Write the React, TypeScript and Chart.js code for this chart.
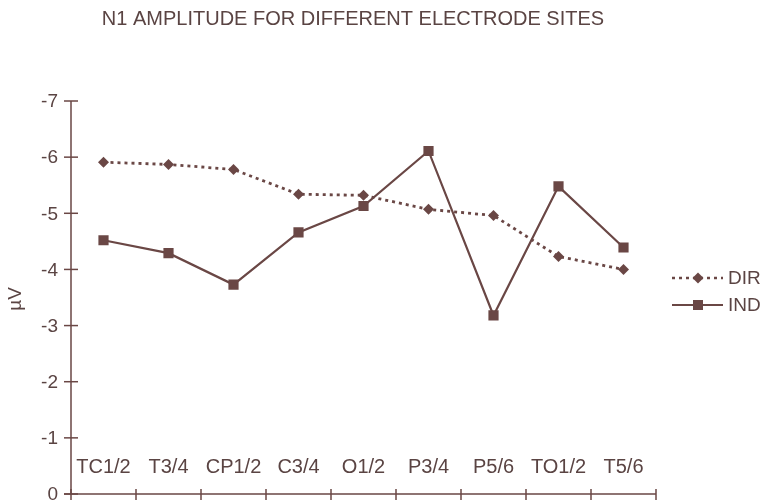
import React, { useEffect, useRef } from "react";
import { Chart, registerables } from "chart.js";

Chart.register(...registerables);

// Electrode sites along the x axis
const sites = ["TC1/2", "T3/4", "CP1/2", "C3/4", "O1/2", "P3/4", "P5/6", "TO1/2", "T5/6"];
// N1 amplitude (µV) per condition
const dirValues = [-5.91, -5.87, -5.78, -5.34, -5.32, -5.07, -4.96, -4.23, -4.0];
const indValues = [-4.52, -4.29, -3.73, -4.66, -5.13, -6.11, -3.18, -5.48, -4.39];
const yTicks = [-7, -6, -5, -4, -3, -2, -1, 0];

const INK = "#6a4745";
const TEXT = "#5a4443";
const FONT = "'Liberation Sans', Arial, sans-serif";

function diamond(ctx: CanvasRenderingContext2D, x: number, y: number, r: number) {
  ctx.beginPath();
  ctx.moveTo(x - r, y);
  ctx.lineTo(x, y - r);
  ctx.lineTo(x + r, y);
  ctx.lineTo(x, y + r);
  ctx.closePath();
  ctx.fill();
}

const decorations = {
  id: "decorations",
  afterDraw(chart: any) {
    const ctx: CanvasRenderingContext2D = chart.ctx;
    const xs = chart.scales.x;
    const ys = chart.scales.y;
    const area = chart.chartArea;
    ctx.save();
    ctx.strokeStyle = INK;
    ctx.lineWidth = 1.5;
    // axis lines
    ctx.beginPath();
    ctx.moveTo(area.left - 7, area.bottom);
    ctx.lineTo(area.right, area.bottom);
    ctx.moveTo(area.left, area.top);
    ctx.lineTo(area.left, area.bottom);
    ctx.stroke();
    // tick marks crossing the y axis, with their values
    ctx.fillStyle = TEXT;
    ctx.font = `19px ${FONT}`;
    ctx.textAlign = "right";
    ctx.textBaseline = "middle";
    for (const v of yTicks) {
      const py = ys.getPixelForValue(v);
      ctx.beginPath();
      ctx.moveTo(area.left - 7, py);
      ctx.lineTo(area.left + 7, py);
      ctx.stroke();
      ctx.fillText(String(v), area.left - 13, py + 1);
    }
    // tick marks crossing the x axis, between categories
    for (let i = 0; i <= sites.length; i++) {
      const px = xs.getPixelForValue(i - 0.5);
      ctx.beginPath();
      ctx.moveTo(px, area.bottom - 5);
      ctx.lineTo(px, area.bottom + 6);
      ctx.stroke();
    }
    // category names inside the plot, just above the x axis
    ctx.font = `20px ${FONT}`;
    ctx.textAlign = "center";
    const labelY = ys.getPixelForValue(-0.48);
    sites.forEach((s, i) => ctx.fillText(s, xs.getPixelForValue(i), labelY));

    // title
    ctx.font = `20px ${FONT}`;
    ctx.fillText("N1 AMPLITUDE FOR DIFFERENT ELECTRODE SITES", 353, 19);

    // y axis title
    ctx.save();
    ctx.translate(16, 299);
    ctx.rotate(-Math.PI / 2);
    ctx.font = `19px ${FONT}`;
    ctx.fillText("µV", 0, 0);
    ctx.restore();

    // legend
    const lx0 = 672, lx1 = 723, mx = 698, tx = 728;
    const dirY = 278, indY = 305;
    ctx.strokeStyle = INK;
    ctx.fillStyle = INK;
    ctx.lineWidth = 2.5;
    ctx.setLineDash([3, 4]);
    ctx.beginPath();
    ctx.moveTo(lx0, dirY);
    ctx.lineTo(lx1, dirY);
    ctx.stroke();
    ctx.setLineDash([]);
    diamond(ctx, mx, dirY, 5.5);
    ctx.lineWidth = 2.2;
    ctx.beginPath();
    ctx.moveTo(lx0, indY);
    ctx.lineTo(lx1, indY);
    ctx.stroke();
    ctx.fillRect(mx - 5, indY - 5, 10, 10);
    ctx.fillStyle = TEXT;
    ctx.font = `19px ${FONT}`;
    ctx.textAlign = "left";
    ctx.fillText("DIR", tx, dirY + 1);
    ctx.fillText("IND", tx, indY + 1);
    ctx.restore();
  },
};

export default function App() {
  const ref = useRef<HTMLCanvasElement>(null);
  useEffect(() => {
    if (!ref.current) return;
    const chart = new Chart(ref.current, {
      type: "line",
      data: {
        labels: sites,
        datasets: [
          {
            label: "DIR",
            data: dirValues,
            borderColor: INK,
            backgroundColor: INK,
            borderWidth: 2.8,
            borderDash: [3, 4],
            pointStyle: "rectRot",
            pointRadius: 5.5,
            pointBorderWidth: 0,
            tension: 0,
          },
          {
            label: "IND",
            data: indValues,
            borderColor: INK,
            backgroundColor: INK,
            borderWidth: 2.2,
            pointStyle: "rect",
            pointRadius: 7.2,
            pointBorderWidth: 0,
            tension: 0,
          },
        ],
      },
      options: {
        responsive: false,
        animation: false,
        layout: { padding: { left: 71, right: 111, top: 101, bottom: 9 } },
        plugins: { legend: { display: false }, tooltip: { enabled: false }, title: { display: false } },
        scales: {
          x: {
            type: "category",
            offset: true,
            display: false,
          },
          y: {
            min: -7,
            max: 0,
            reverse: true,
            display: false,
          },
        },
      },
      plugins: [decorations],
    });
    return () => chart.destroy();
  }, []);
  return (
    <div style={{ position: "fixed", left: 0, top: 0, width: 767, height: 503, background: "#fff" }}>
      <canvas ref={ref} width={767} height={503} />
    </div>
  );
}
